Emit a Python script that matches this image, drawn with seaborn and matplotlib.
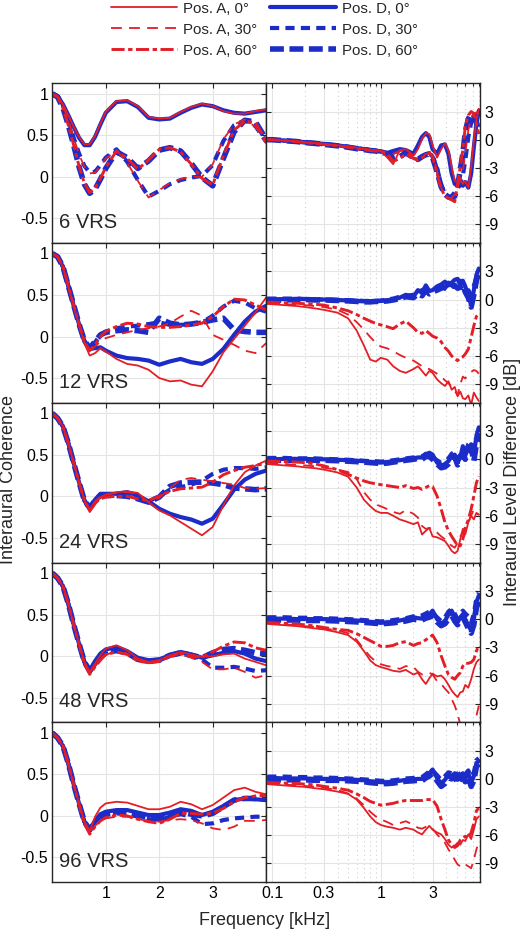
import numpy as np
import pandas as pd
import seaborn as sns
import matplotlib.pyplot as plt
from matplotlib.ticker import FixedLocator, NullFormatter

sns.set_style("white")
plt.rcParams['font.family'] = ['Liberation Sans', 'DejaVu Sans']
plt.rcParams['axes.unicode_minus'] = False

# ---- datos: coherencia interaural (frecuencia lineal, kHz) ----
f_coh = [0.0, 0.1, 0.2, 0.3, 0.4, 0.5, 0.6, 0.7, 0.8, 0.9, 1.0,
         1.2, 1.4, 1.6, 1.8, 2.0, 2.2, 2.4, 2.6, 2.8, 3.0,
         3.2, 3.4, 3.6, 3.8, 4.0]

coh6_A0 = [1.00, 0.97, 0.87, 0.74, 0.60, 0.48, 0.39, 0.39, 0.49, 0.64, 0.78,
           0.91, 0.92, 0.85, 0.72, 0.70, 0.71, 0.78, 0.84, 0.88, 0.85,
           0.79, 0.76, 0.76, 0.79, 0.81]
coh6_A30 = [1.00, 0.97, 0.86, 0.68, 0.47, 0.27, 0.12, 0.04, 0.05, 0.13, 0.22,
            0.32, 0.17, -0.05, -0.25, -0.16, -0.08, -0.03, 0.00, 0.00, 0.15,
            0.45, 0.63, 0.69, 0.60, 0.40]
coh6_A60 = [1.00, 0.96, 0.83, 0.62, 0.38, 0.13, -0.08, -0.19, -0.14, -0.02, 0.11,
            0.31, 0.22, 0.09, 0.20, 0.33, 0.35, 0.30, 0.15, -0.02, -0.10,
            0.25, 0.56, 0.67, 0.65, 0.44]
coh6_D0 = [1.00, 0.97, 0.87, 0.74, 0.60, 0.47, 0.38, 0.38, 0.48, 0.63, 0.77,
           0.90, 0.91, 0.84, 0.71, 0.69, 0.70, 0.77, 0.83, 0.87, 0.85,
           0.80, 0.77, 0.76, 0.78, 0.80]
coh6_D30 = [1.00, 0.97, 0.86, 0.68, 0.47, 0.28, 0.13, 0.05, 0.06, 0.14, 0.23,
            0.33, 0.18, -0.04, -0.24, -0.17, -0.09, -0.04, -0.01, 0.01, 0.14,
            0.43, 0.62, 0.68, 0.61, 0.42]
coh6_D60 = [1.00, 0.96, 0.83, 0.62, 0.38, 0.12, -0.09, -0.20, -0.15, -0.03, 0.10,
            0.30, 0.23, 0.10, 0.19, 0.32, 0.35, 0.31, 0.16, -0.01, -0.11,
            0.22, 0.54, 0.68, 0.66, 0.45]

coh12_A0 = [1.00, 0.96, 0.84, 0.60, 0.36, 0.14, -0.08, -0.23, -0.20, -0.14, -0.18,
            -0.27, -0.33, -0.35, -0.40, -0.50, -0.54, -0.53, -0.58, -0.60, -0.42,
            -0.19, -0.03, 0.13, 0.29, 0.47]
coh12_A30 = [1.00, 0.96, 0.84, 0.60, 0.37, 0.15, -0.06, -0.18, -0.12, -0.06, -0.02,
             0.02, 0.05, 0.08, 0.10, 0.12, 0.16, 0.24, 0.31, 0.25, 0.02,
             -0.04, -0.10, -0.17, -0.20, -0.08]
coh12_A60 = [1.00, 0.96, 0.84, 0.61, 0.38, 0.15, -0.06, -0.17, -0.10, 0.00, 0.06,
             0.12, 0.16, 0.15, 0.12, 0.11, 0.11, 0.12, 0.14, 0.16, 0.24,
             0.36, 0.45, 0.44, 0.38, 0.32]
coh12_D0 = [1.00, 0.96, 0.84, 0.61, 0.37, 0.15, -0.06, -0.15, -0.14, -0.13, -0.17,
            -0.23, -0.26, -0.27, -0.29, -0.34, -0.30, -0.27, -0.31, -0.33, -0.27,
            -0.15, 0.02, 0.18, 0.30, 0.37]
coh12_D30 = [1.00, 0.96, 0.84, 0.61, 0.38, 0.15, -0.05, -0.15, -0.07, 0.02, 0.06,
             0.10, 0.12, 0.13, 0.15, 0.17, 0.14, 0.14, 0.15, 0.17, 0.25,
             0.36, 0.43, 0.41, 0.34, 0.30]
coh12_D60 = [1.00, 0.96, 0.84, 0.61, 0.38, 0.15, -0.05, -0.14, -0.06, 0.02, 0.05,
             0.07, 0.08, 0.07, 0.05, 0.22, 0.16, 0.14, 0.15, 0.17, 0.20,
             0.22, 0.08, 0.06, 0.05, 0.05]

coh24_A0 = [1.00, 0.94, 0.84, 0.64, 0.40, 0.17, -0.05, -0.19, -0.10, -0.01, 0.02,
            0.05, 0.06, 0.04, -0.07, -0.17, -0.23, -0.31, -0.39, -0.47, -0.37,
            -0.11, 0.13, 0.29, 0.37, 0.43]
coh24_A30 = [1.00, 0.94, 0.84, 0.64, 0.40, 0.17, -0.05, -0.15, -0.06, 0.00, 0.02,
             0.04, 0.05, 0.03, -0.07, -0.02, 0.10, 0.20, 0.22, 0.20, 0.18,
             0.16, 0.14, 0.10, 0.09, 0.10]
coh24_A60 = [1.00, 0.94, 0.84, 0.64, 0.40, 0.17, -0.05, -0.17, -0.08, -0.03, -0.01,
             0.00, 0.00, -0.03, -0.05, 0.00, 0.06, 0.09, 0.10, 0.11, 0.17,
             0.26, 0.31, 0.35, 0.37, 0.40]
coh24_D0 = [1.00, 0.94, 0.84, 0.64, 0.40, 0.17, -0.05, -0.14, -0.04, 0.03, 0.03,
            0.03, 0.05, 0.01, -0.06, -0.15, -0.21, -0.25, -0.28, -0.33, -0.27,
            -0.10, 0.08, 0.20, 0.27, 0.31]
coh24_D30 = [1.00, 0.94, 0.84, 0.64, 0.40, 0.17, -0.05, -0.15, -0.06, 0.00, 0.01,
             0.01, 0.01, -0.02, -0.06, 0.00, 0.08, 0.11, 0.14, 0.19, 0.27,
             0.32, 0.34, 0.34, 0.33, 0.35]
coh24_D60 = [1.00, 0.94, 0.84, 0.64, 0.40, 0.17, -0.05, -0.14, -0.05, 0.01, 0.01,
             0.01, 0.00, -0.03, -0.07, -0.01, 0.12, 0.16, 0.17, 0.17, 0.16,
             0.14, 0.10, 0.09, 0.08, 0.09]

coh48_A0 = [1.00, 0.94, 0.84, 0.63, 0.38, 0.15, -0.07, -0.19, -0.09, 0.01, 0.09,
            0.13, 0.07, -0.03, -0.07, -0.05, 0.01, 0.05, 0.02, -0.01, 0.00,
            0.02, 0.03, -0.03, -0.07, -0.11]
coh48_A30 = [1.00, 0.94, 0.84, 0.63, 0.38, 0.15, -0.07, -0.20, -0.12, -0.03, 0.02,
             0.05, 0.03, -0.05, -0.09, -0.07, -0.01, 0.03, -0.02, -0.07, -0.16,
             -0.16, -0.14, -0.19, -0.26, -0.23]
coh48_A60 = [1.00, 0.94, 0.84, 0.63, 0.38, 0.14, -0.09, -0.22, -0.13, -0.05, 0.02,
             0.05, 0.02, -0.06, -0.08, -0.06, 0.00, 0.03, 0.00, -0.01, 0.05,
             0.12, 0.17, 0.16, 0.10, 0.07]
coh48_D0 = [1.00, 0.94, 0.84, 0.63, 0.38, 0.15, -0.07, -0.17, -0.06, 0.03, 0.08,
            0.11, 0.06, -0.02, -0.05, -0.04, 0.01, 0.05, 0.02, -0.02, 0.01,
            0.04, 0.06, 0.03, -0.03, -0.06]
coh48_D30 = [1.00, 0.94, 0.84, 0.63, 0.38, 0.15, -0.07, -0.18, -0.10, -0.02, 0.03,
             0.06, 0.03, -0.04, -0.07, -0.05, 0.00, 0.03, 0.00, -0.04, -0.14,
             -0.14, -0.13, -0.15, -0.18, -0.17]
coh48_D60 = [1.00, 0.94, 0.84, 0.63, 0.38, 0.15, -0.07, -0.18, -0.09, -0.01, 0.04,
             0.07, 0.04, -0.04, -0.06, -0.05, 0.01, 0.04, 0.01, -0.02, 0.04,
             0.08, 0.09, 0.07, 0.04, 0.03]

coh96_A0 = [1.00, 0.94, 0.84, 0.63, 0.38, 0.15, -0.07, -0.18, -0.01, 0.10, 0.15,
            0.17, 0.16, 0.12, 0.08, 0.08, 0.11, 0.17, 0.14, 0.08, 0.13,
            0.22, 0.31, 0.34, 0.29, 0.26]
coh96_A30 = [1.00, 0.94, 0.84, 0.63, 0.38, 0.15, -0.07, -0.19, -0.12, -0.06, -0.03,
             -0.01, -0.01, -0.04, -0.06, -0.07, -0.05, -0.04, -0.05, -0.09, -0.15,
             -0.17, -0.13, -0.06, -0.06, -0.05]
coh96_A60 = [1.00, 0.94, 0.84, 0.63, 0.38, 0.14, -0.09, -0.22, -0.13, -0.06, -0.02,
             0.01, 0.00, -0.04, -0.07, -0.09, -0.04, 0.03, 0.03, 0.02, 0.03,
             0.09, 0.17, 0.22, 0.24, 0.25]
coh96_D0 = [1.00, 0.94, 0.84, 0.63, 0.38, 0.15, -0.07, -0.16, -0.06, 0.02, 0.05,
            0.07, 0.07, 0.04, 0.01, 0.01, 0.04, 0.08, 0.06, 0.01, 0.05,
            0.12, 0.19, 0.21, 0.20, 0.19]
coh96_D30 = [1.00, 0.94, 0.84, 0.63, 0.38, 0.15, -0.07, -0.17, -0.08, -0.02, 0.01,
             0.03, 0.02, -0.01, -0.04, -0.05, -0.01, 0.02, -0.01, -0.10, -0.09,
             -0.05, -0.03, -0.02, -0.01, -0.01]
coh96_D60 = [1.00, 0.94, 0.84, 0.63, 0.38, 0.15, -0.07, -0.17, -0.07, -0.01, 0.03,
             0.05, 0.04, 0.01, -0.02, -0.04, 0.01, 0.05, 0.02, 0.00, 0.03,
             0.11, 0.19, 0.21, 0.21, 0.20]

# ---- datos: diferencia de nivel interaural (frecuencia log, kHz; dB) ----
f_ild = [0.09, 0.1, 0.13, 0.17, 0.2, 0.25, 0.3, 0.4, 0.5, 0.6, 0.7, 0.8, 0.9,
         1.0, 1.15, 1.3, 1.5, 1.7, 2.0, 2.2, 2.4, 2.6, 2.8, 3.0, 3.3, 3.6,
         3.9, 4.2, 4.5, 4.8, 5.1, 5.4, 5.7, 6.0, 6.4, 6.8, 7.2, 7.6, 8.0]

ild6_A0 = [0.0, 0.0, -0.1, -0.2, -0.25, -0.35, -0.45, -0.6, -0.7, -0.85, -0.95, -1.05, -1.15,
           -1.2, -1.9, -2.6, -1.1, -1.0, -1.7, -1.0, 0.1, 0.7, 0.6, -0.6, -1.9, -1.0,
           -0.4, -1.1, -2.9, -4.4, -4.5, -4.2, -4.7, -4.4, -5.1, -2.9, -0.1, 2.1, 3.3]
ild6_A30 = [0.0, 0.0, -0.1, -0.2, -0.3, -0.4, -0.5, -0.65, -0.75, -0.9, -1.0, -1.1, -1.15,
            -1.2, -1.3, -1.5, -1.2, -1.1, -1.9, -2.0, -1.7, -1.5, -1.5, -1.7, -3.3, -5.1,
            -6.0, -6.3, -6.2, -5.8, -5.1, -4.3, -3.3, -1.5, 1.0, 2.4, 2.8, 2.9, 2.8]
ild6_A60 = [0.0, 0.0, -0.1, -0.2, -0.3, -0.4, -0.5, -0.65, -0.8, -0.95, -1.05, -1.15, -1.2,
            -1.25, -1.5, -2.3, -2.0, -1.5, -2.0, -2.2, -1.9, -1.7, -1.4, -1.8, -3.6, -5.2,
            -6.0, -6.2, -6.4, -6.6, -4.7, -2.9, -1.1, 1.4, 2.6, 3.0, 2.8, 1.7, 0.6]
ild6_D0 = [0.0, 0.0, -0.1, -0.2, -0.25, -0.35, -0.45, -0.6, -0.75, -0.9, -1.0, -1.1, -1.2,
           -1.25, -1.4, -1.2, -1.0, -1.1, -1.5, -0.6, 0.3, 0.7, 0.3, -1.0, -1.5, -0.6,
           -0.5, -1.5, -3.6, -4.7, -4.4, -4.7, -4.9, -4.5, -5.1, -3.6, -0.8, 1.7, 3.1]
ild6_D30 = [0.0, 0.0, -0.1, -0.2, -0.3, -0.4, -0.5, -0.65, -0.8, -0.9, -1.0, -1.1, -1.2,
            -1.25, -1.35, -1.4, -1.1, -1.2, -1.8, -2.1, -1.8, -1.6, -1.4, -1.8, -3.0, -4.8,
            -5.8, -6.1, -6.0, -5.6, -5.3, -4.6, -3.8, -2.2, 0.3, 1.8, 2.5, 2.6, 2.4]
ild6_D60 = [0.0, 0.0, -0.1, -0.2, -0.3, -0.4, -0.5, -0.65, -0.8, -0.95, -1.05, -1.15, -1.2,
            -1.3, -1.5, -2.0, -1.8, -1.4, -1.9, -2.1, -1.8, -1.6, -1.5, -1.9, -3.4, -5.0,
            -5.8, -6.1, -6.2, -6.0, -5.0, -3.2, -1.5, 0.8, 2.2, 2.8, 2.6, 1.8, 1.0]

ild12_A0 = [-0.45, -0.5, -0.6, -0.7, -0.8, -0.95, -1.1, -1.4, -2.0, -3.3, -4.9, -6.4, -6.6,
            -6.2, -6.4, -7.1, -7.6, -7.8, -7.4, -7.1, -7.6, -8.1, -7.6, -7.8, -8.5, -8.9,
            -9.2, -8.7, -9.6, -9.3, -10.3, -9.8, -10.5, -10.6, -10.2, -11.2, -9.9, -10.4, -10.8]
ild12_A30 = [-0.45, -0.45, -0.5, -0.55, -0.6, -0.7, -0.8, -1.1, -1.6, -2.4, -3.2, -4.0, -4.6,
             -5.0, -5.2, -5.5, -5.9, -6.2, -6.5, -6.8, -7.1, -7.3, -7.4, -7.6, -7.9, -8.2,
             -8.6, -8.9, -9.3, -9.7, -10.2, -9.0, -8.2, -8.4, -8.0, -7.7, -7.5, -7.6, -7.9]
ild12_A60 = [-0.3, -0.3, -0.35, -0.4, -0.45, -0.5, -0.6, -0.9, -1.2, -1.6, -2.0, -2.3, -2.55,
             -2.7, -2.9, -3.1, -2.6, -2.3, -3.0, -3.5, -3.6, -3.3, -3.6, -3.9, -4.1, -4.5,
             -5.1, -5.5, -6.0, -6.3, -6.5, -6.2, -6.1, -5.8, -5.3, -4.0, -2.8, -1.8, -1.5]
ild12_D0 = [0.0, 0.0, 0.05, 0.05, 0.05, 0.0, 0.0, -0.05, -0.1, -0.15, -0.2, -0.2, -0.2,
            -0.15, -0.1, 0.0, 0.2, 0.5, 0.3, 1.0, 0.7, 1.5, 0.9, 1.0, 1.4, 1.6,
            1.9, 1.5, 1.8, 2.1, 2.2, 1.6, 2.0, 1.4, 0.4, -0.6, 1.0, 2.6, 3.3]
ild12_D30 = [0.1, 0.1, 0.1, 0.1, 0.05, 0.0, 0.0, -0.05, -0.1, -0.1, -0.15, -0.15, -0.15,
             -0.1, 0.0, 0.1, 0.3, 0.4, 0.5, 0.8, 1.0, 1.2, 1.1, 1.3, 1.1, 1.4,
             1.6, 1.8, 1.5, 1.9, 1.6, 2.0, 1.7, 1.2, 1.0, 0.5, 1.5, 2.3, 2.8]
ild12_D60 = [-0.1, -0.1, -0.05, 0.0, 0.0, -0.05, -0.05, -0.1, -0.15, -0.2, -0.25, -0.25, -0.2,
             -0.2, -0.15, -0.05, 0.1, 0.3, 0.2, 0.6, 0.4, 1.0, 0.6, 0.8, 1.0, 1.2,
             1.3, 1.0, 1.4, 1.5, 1.2, 1.3, 1.6, 0.8, 0.2, -0.8, 0.5, 2.0, 3.0]

ild24_A0 = [-0.5, -0.55, -0.65, -0.75, -0.85, -0.95, -1.1, -1.4, -1.85, -3.0, -4.3, -5.0, -5.5,
            -5.7, -5.7, -6.0, -6.4, -6.6, -6.9, -6.7, -8.0, -7.6, -7.3, -8.2, -8.3, -8.5,
            -8.7, -9.2, -9.75, -10.0, -9.75, -8.5, -7.4, -8.0, -6.7, -6.0, -6.4, -5.7, -5.9]
ild24_A30 = [-0.35, -0.4, -0.5, -0.6, -0.65, -0.75, -0.9, -1.1, -1.35, -2.1, -3.5, -4.3, -4.8,
             -5.0, -5.3, -5.6, -5.8, -5.4, -5.8, -6.2, -7.1, -7.4, -7.3, -7.4, -7.8, -8.2,
             -8.5, -8.9, -9.2, -9.4, -8.9, -8.2, -7.8, -7.1, -6.7, -6.0, -5.3, -5.7, -5.9]
ild24_A60 = [-0.2, -0.2, -0.25, -0.3, -0.35, -0.5, -0.7, -1.1, -1.6, -2.0, -2.3, -2.5, -2.6,
             -2.7, -2.8, -2.9, -3.0, -2.8, -3.1, -3.0, -3.2, -3.0, -2.8, -2.9, -3.9, -5.3,
             -6.7, -7.6, -8.2, -8.7, -9.2, -9.2, -8.5, -7.4, -6.4, -5.3, -3.9, -2.5, -1.8]
ild24_D0 = [0.0, 0.0, 0.05, 0.05, 0.05, 0.0, 0.0, -0.05, -0.1, -0.15, -0.2, -0.3, -0.35,
            -0.35, -0.3, -0.2, -0.1, 0.0, 0.1, 0.2, 0.2, 0.5, 0.7, 0.5, -0.35, -0.7,
            -0.5, -0.2, 0.35, 0.5, -0.35, 0.2, 1.4, 0.4, 1.2, 1.6, 0.4, 2.5, 3.4]
ild24_D30 = [0.15, 0.15, 0.15, 0.1, 0.1, 0.1, 0.05, 0.0, -0.05, -0.1, -0.15, -0.2, -0.2,
             -0.25, -0.2, -0.1, 0.0, 0.1, 0.2, 0.3, 0.3, 0.6, 0.4, 0.2, -0.1, -0.4,
             -0.2, 0.1, 0.6, 0.8, 0.0, 0.5, 0.9, 0.8, 1.6, 1.9, 1.0, 2.0, 2.8]
ild24_D60 = [-0.15, -0.15, -0.1, -0.1, -0.1, -0.1, -0.1, -0.15, -0.2, -0.25, -0.3, -0.35, -0.4,
             -0.45, -0.4, -0.3, -0.2, -0.1, 0.0, 0.1, 0.0, 0.3, 0.3, 0.0, -0.5, -0.9,
             -0.8, -0.5, 0.0, 0.3, -0.6, -0.3, 0.6, 0.0, 0.8, 1.2, -0.2, 1.6, 2.6]

ild48_A0 = [-0.5, -0.55, -0.65, -0.75, -0.85, -1.0, -1.1, -1.4, -1.7, -2.4, -3.4, -4.4, -4.9,
            -5.1, -5.3, -5.5, -5.6, -5.4, -5.9, -5.7, -6.4, -6.9, -6.3, -5.8, -6.1, -6.0,
            -6.4, -7.0, -7.6, -8.0, -8.3, -7.8, -7.7, -7.0, -7.3, -6.4, -5.3, -4.6, -4.3]
ild48_A30 = [-0.4, -0.45, -0.55, -0.65, -0.75, -0.85, -1.0, -1.2, -1.5, -2.2, -3.2, -4.0, -4.5,
             -4.8, -5.0, -5.1, -5.3, -5.0, -5.1, -5.6, -5.9, -5.8, -5.7, -5.9, -6.6, -6.9,
             -7.4, -7.8, -8.5, -9.2, -10.1, -11.2, -11.6, -11.6, -11.6, -11.6, -11.6, -10.3, -9.2]
ild48_A60 = [-0.35, -0.4, -0.45, -0.55, -0.6, -0.75, -0.9, -1.1, -1.2, -1.55, -1.95, -2.3, -2.6,
             -2.9, -2.9, -2.8, -2.5, -2.4, -2.8, -2.6, -2.5, -2.2, -1.95, -1.7, -2.5, -3.9,
             -5.0, -5.9, -6.2, -6.4, -6.0, -5.7, -5.0, -4.7, -4.7, -4.6, -4.3, -3.4, -2.8]
ild48_D0 = [0.05, 0.05, 0.05, 0.0, 0.0, 0.0, 0.0, -0.05, -0.1, -0.15, -0.2, -0.3, -0.35,
            -0.4, -0.35, -0.3, -0.15, 0.0, 0.2, 0.1, 0.05, 0.3, 0.5, 0.9, 0.0, -0.5,
            -0.2, 0.5, 0.9, 0.2, -0.35, 0.2, 0.5, 0.0, -0.7, -1.2, 0.0, 1.8, 2.5]
ild48_D30 = [0.2, 0.2, 0.2, 0.15, 0.15, 0.1, 0.1, 0.05, 0.0, -0.05, -0.1, -0.15, -0.2,
             -0.25, -0.2, -0.1, 0.0, 0.1, 0.3, 0.3, 0.4, 0.6, 0.8, 0.7, 0.2, -0.2,
             0.2, 0.8, 1.1, 0.6, 0.0, 0.6, 0.9, 0.6, 0.3, -0.4, 0.6, 2.2, 2.8]
ild48_D60 = [-0.1, -0.1, -0.1, -0.1, -0.15, -0.15, -0.15, -0.2, -0.25, -0.3, -0.35, -0.4, -0.45,
             -0.5, -0.45, -0.4, -0.3, -0.2, 0.0, -0.1, -0.1, 0.1, 0.2, 0.4, -0.3, -0.7,
             -0.5, 0.0, 0.4, -0.2, -0.6, -0.1, 0.2, -0.3, -1.0, -1.5, -0.6, 1.2, 2.0]

ild96_A0 = [-0.55, -0.6, -0.7, -0.8, -0.85, -1.0, -1.1, -1.35, -1.6, -2.2, -3.1, -4.0, -4.6,
            -4.9, -5.1, -5.2, -5.4, -5.2, -5.4, -5.7, -5.9, -5.4, -5.0, -5.4, -5.7, -5.9,
            -6.4, -7.0, -7.3, -7.1, -6.8, -7.0, -6.5, -6.6, -5.9, -6.4, -5.4, -4.3, -4.0]
ild96_A30 = [-0.45, -0.5, -0.6, -0.7, -0.75, -0.85, -0.95, -1.2, -1.55, -2.1, -2.8, -3.5, -4.0,
             -4.3, -4.6, -4.9, -4.7, -4.5, -4.9, -5.2, -5.3, -5.1, -5.0, -5.3, -5.9, -6.4,
             -6.8, -7.5, -8.0, -8.6, -9.1, -9.3, -9.0, -9.1, -9.3, -9.5, -8.6, -7.5, -6.7]
ild96_A60 = [-0.4, -0.4, -0.45, -0.5, -0.55, -0.65, -0.8, -1.0, -1.2, -1.6, -2.0, -2.4, -2.6,
             -2.8, -2.7, -2.6, -2.4, -2.3, -2.3, -2.3, -2.3, -2.2, -2.2, -2.2, -2.9, -4.3,
             -5.4, -6.5, -7.0, -7.3, -7.1, -6.5, -6.3, -6.1, -6.3, -5.7, -4.7, -3.4, -3.1]
ild96_D0 = [0.1, 0.1, 0.05, 0.05, 0.05, 0.0, 0.0, 0.0, -0.05, -0.1, -0.15, -0.25, -0.3,
            -0.35, -0.35, -0.3, -0.2, -0.1, -0.05, 0.0, 0.0, 0.3, 0.6, 1.0, 0.1, -0.5,
            -0.1, 0.45, 0.3, 0.6, -0.1, 0.3, 0.6, 0.1, 0.6, -0.4, 0.3, 1.7, 1.9]
ild96_D30 = [0.25, 0.25, 0.25, 0.2, 0.2, 0.15, 0.15, 0.1, 0.05, 0.0, -0.05, -0.1, -0.15,
             -0.2, -0.2, -0.15, -0.05, 0.05, 0.1, 0.15, 0.2, 0.5, 0.8, 0.9, 0.4, -0.1,
             0.3, 0.7, 0.6, 0.9, 0.3, 0.6, 0.9, 0.5, 0.9, 0.2, 0.7, 2.0, 2.2]
ild96_D60 = [-0.05, -0.05, -0.1, -0.1, -0.1, -0.15, -0.15, -0.15, -0.2, -0.25, -0.3, -0.4, -0.45,
             -0.5, -0.5, -0.45, -0.35, -0.25, -0.2, -0.15, -0.2, 0.1, 0.3, 0.6, -0.2, -0.8,
             -0.5, 0.1, 0.0, 0.3, -0.5, 0.0, 0.3, -0.3, 0.2, -0.8, -0.2, 1.3, 1.6]

etiquetas_vrs = ["6 VRS", "12 VRS", "24 VRS", "48 VRS", "96 VRS"]
series = ["A0", "A30", "A60", "D0", "D30", "D60"]
nombres = ["Pos. A, 0°", "Pos. A, 30°", "Pos. A, 60°",
           "Pos. D, 0°", "Pos. D, 30°", "Pos. D, 60°"]

coh_filas = [
    [coh6_A0, coh6_A30, coh6_A60, coh6_D0, coh6_D30, coh6_D60],
    [coh12_A0, coh12_A30, coh12_A60, coh12_D0, coh12_D30, coh12_D60],
    [coh24_A0, coh24_A30, coh24_A60, coh24_D0, coh24_D30, coh24_D60],
    [coh48_A0, coh48_A30, coh48_A60, coh48_D0, coh48_D30, coh48_D60],
    [coh96_A0, coh96_A30, coh96_A60, coh96_D0, coh96_D30, coh96_D60],
]
ild_filas = [
    [ild6_A0, ild6_A30, ild6_A60, ild6_D0, ild6_D30, ild6_D60],
    [ild12_A0, ild12_A30, ild12_A60, ild12_D0, ild12_D30, ild12_D60],
    [ild24_A0, ild24_A30, ild24_A60, ild24_D0, ild24_D30, ild24_D60],
    [ild48_A0, ild48_A30, ild48_A60, ild48_D0, ild48_D30, ild48_D60],
    [ild96_A0, ild96_A30, ild96_A60, ild96_D0, ild96_D30, ild96_D60],
]

# estilos de linea
ROJO = '#E31E26'
AZUL = '#1C2CC8'
estilos = {
    "A0": dict(color=ROJO, linewidth=1.3, linestyle='-'),
    "A30": dict(color=ROJO, linewidth=1.3, linestyle=(0, (6, 4))),
    "A60": dict(color=ROJO, linewidth=2.1, linestyle=(0, (4.5, 1.2, 1.5, 1.2))),
    "D0": dict(color=AZUL, linewidth=3.0, linestyle='-'),
    "D30": dict(color=AZUL, linewidth=3.0, linestyle=(0, (2.2, 1.5))),
    "D60": dict(color=AZUL, linewidth=4.0, linestyle=(0, (2.5, 1.0))),
}
orden_dibujo = [3, 4, 5, 0, 1, 2]  # azul debajo, rojo encima

GRIS = '#262626'
fig, axes = plt.subplots(5, 2, figsize=(5.24, 9.3), dpi=100)
fig.subplots_adjust(left=0.0998, right=0.916, top=0.9104, bottom=0.0513,
                    hspace=0, wspace=0)

handles = {}
for i in range(5):
    axc, axi = axes[i, 0], axes[i, 1]
    axi.set_xscale('log')
    for k in orden_dibujo:
        s = series[k]
        sns.lineplot(x=f_coh, y=coh_filas[i][k], ax=axc, **estilos[s])
        sns.lineplot(x=f_ild, y=ild_filas[i][k], ax=axi, **estilos[s])
        if i == 0:
            handles[s] = axc.lines[-1]

    # coherencia
    axc.set_xlim(0, 4.0)
    axc.set_ylim(-0.8, 1.125)
    axc.set_xticks([1, 2, 3])
    axc.set_xticklabels(['1', '2', '3'])
    axc.set_yticks([-0.5, 0, 0.5, 1])
    axc.set_yticklabels(['-0.5', '0', '0.5', '1'])
    axc.grid(True, which='major', color='#e4e4e4', linewidth=0.8)
    axc.tick_params(direction='in', length=3.5, width=0.8, top=True, right=True,
                    labelsize=11.5, colors=GRIS, labelcolor='black', pad=3,
                    labelbottom=(i == 4))
    axc.text(0.03, 0.094, etiquetas_vrs[i], transform=axc.transAxes,
             fontsize=14.5, va='baseline', ha='left')

    # ILD
    axi.set_xlim(0.088, 8.2)
    axi.set_ylim(-11, 6)
    axi.xaxis.set_major_locator(FixedLocator([0.1, 0.3, 1, 3]))
    axi.xaxis.set_minor_locator(FixedLocator([0.2, 0.4, 0.5, 0.6, 0.7, 0.8, 0.9,
                                              2, 4, 5, 6, 7, 8]))
    axi.xaxis.set_minor_formatter(NullFormatter())
    axi.set_xticklabels(['0.1', '0.3', '1', '3'])
    axi.set_yticks([-9, -6, -3, 0, 3])
    axi.set_yticklabels(['-9', '-6', '-3', '0', '3'])
    axi.grid(True, which='major', color='#e4e4e4', linewidth=0.8)
    axi.grid(True, which='minor', axis='x', color='#cfcfcf', linewidth=0.8,
             linestyle=(0, (1, 3)))
    axi.tick_params(which='both', direction='in', width=0.8, top=True,
                    left=True, right=True, labelleft=False, labelright=True,
                    labelsize=11.5, colors=GRIS, labelcolor='black', pad=3,
                    labelbottom=(i == 4))
    axi.tick_params(which='major', length=3.5)
    axi.tick_params(which='minor', length=2)

    for ax in (axc, axi):
        ax.set_xlabel('')
        ax.set_ylabel('')
        ax.set_axisbelow(True)
        for sp in ax.spines.values():
            sp.set_color(GRIS)
            sp.set_linewidth(1.0)

fig.text(0.0153, 0.484, 'Interaural Coherence', rotation=90,
         ha='center', va='center', fontsize=13)
fig.text(0.979, 0.482, 'Interaural Level Difference [dB]', rotation=90,
         ha='center', va='center', fontsize=13)
fig.text(0.505, 0.0097, 'Frequency [kHz]', ha='center', va='center', fontsize=13)

fig.legend([handles[s] for s in series], nombres, ncol=2, loc='upper center',
           bbox_to_anchor=(0.505, 1.008), frameon=False, fontsize=10.8,
           handlelength=4.4, handletextpad=0.4, columnspacing=0.9,
           labelspacing=0.47, borderpad=0.1)

fig.savefig('out.png', dpi=100)
